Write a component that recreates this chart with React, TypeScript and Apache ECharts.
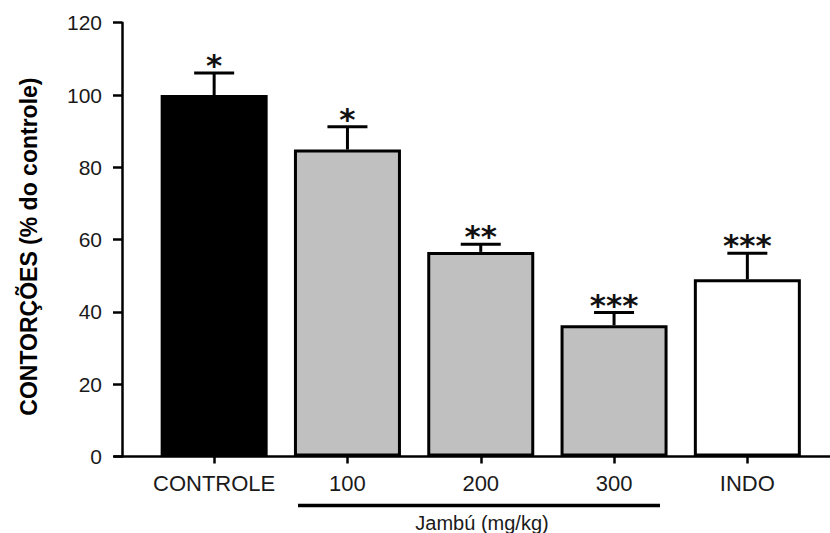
import React, { useEffect, useRef } from 'react';
import * as echarts from 'echarts';

const categories = ['CONTROLE', '100', '200', '300', 'INDO'];
const means = [100, 84.9, 56.6, 36.3, 49.0];
const errors = [6.1, 6.3, 2.1, 3.5, 7.2];
const stars = ['*', '*', '**', '***', '***'];
const barColors = ['#000000', '#c0c0c0', '#c0c0c0', '#c0c0c0', '#ffffff'];
const yMin = 0;
const yMax = 120;
const yStep = 20;
const yTitle = 'CONTORÇÕES (% do controle)';
const groupLabel = 'Jambú (mg/kg)';

const FONT = '"Liberation Sans", Arial, Helvetica, sans-serif';
const STAR_FONT = '"DejaVu Sans", sans-serif';

export default function App() {
  const ref = useRef<HTMLDivElement>(null);
  useEffect(() => {
    document.body.style.margin = '0';
    if (!ref.current) return;
    const chart = echarts.init(ref.current, null, { renderer: 'svg' });
    const option: any = {
      animation: false,
      backgroundColor: '#ffffff',
      grid: { left: 147.5, right: 16, top: 22.7, bottom: 76.5 },
      xAxis: {
        type: 'category',
        data: categories,
        axisLine: { show: false },
        axisTick: { show: true, alignWithLabel: true, length: 7, lineStyle: { color: '#000', width: 2.5 } },
        axisLabel: { interval: 0, color: '#1a1a1a', fontSize: 22, fontFamily: FONT, margin: 16 },
        splitLine: { show: false },
      },
      yAxis: {
        type: 'value',
        min: yMin,
        max: yMax,
        interval: yStep,
        offset: 25.5,
        name: yTitle,
        nameLocation: 'middle',
        nameRotate: 90,
        nameGap: 82,
        nameTextStyle: { color: '#000', fontSize: 23, fontWeight: 'bold', fontFamily: FONT, padding: [0, 14, 0, 0] },
        axisLine: { show: true, lineStyle: { color: '#000', width: 2.5 } },
        axisTick: { show: true, length: 9, lineStyle: { color: '#000', width: 2.5 } },
        axisLabel: { color: '#1a1a1a', fontSize: 21, fontFamily: FONT, margin: 20 },
        splitLine: { show: false },
      },
      series: [
        {
          type: 'bar',
          barWidth: 107,
          data: means.map((v, i) => ({
            value: v,
            itemStyle: { color: barColors[i], borderColor: '#000', borderWidth: 3 },
          })),
          z: 2,
        },
        {
          type: 'custom',
          z: 3,
          data: categories.map((c, i) => [i, means[i], errors[i]]),
          encode: { x: 0, y: 1 },
          renderItem: (params: any, api: any) => {
            const i = api.value(0);
            const m = api.value(1);
            const e = api.value(2);
            const base = api.coord([i, m]);
            const top = api.coord([i, m + e]);
            const half = 20;
            return {
              type: 'group',
              children: [
                {
                  type: 'line',
                  shape: { x1: base[0], y1: base[1], x2: top[0], y2: top[1] },
                  style: { stroke: '#000', lineWidth: 3 },
                },
                {
                  type: 'line',
                  shape: { x1: top[0] - half, y1: top[1], x2: top[0] + half, y2: top[1] },
                  style: { stroke: '#000', lineWidth: 3 },
                },
                {
                  type: 'text',
                  style: {
                    text: stars[i],
                    x: top[0],
                    y: top[1] - 8,
                    align: 'center',
                    verticalAlign: 'middle',
                    fontSize: 31,
                    fontWeight: 'bold',
                    fontFamily: STAR_FONT,
                    fill: '#111',
                  },
                },
              ],
            };
          },
        },
      ],
      graphic: [
        {
          type: 'line',
          shape: { x1: 114, y1: 456.5, x2: 830, y2: 456.5 },
          style: { stroke: '#000', lineWidth: 2.5 },
          z: 10,
        },
        {
          type: 'line',
          shape: { x1: 298, y1: 505.5, x2: 660, y2: 505.5 },
          style: { stroke: '#000', lineWidth: 3.5 },
        },
        {
          type: 'text',
          x: 482,
          y: 523,
          style: {
            text: groupLabel,
            align: 'center',
            verticalAlign: 'middle',
            fontSize: 20,
            fontFamily: FONT,
            fill: '#1a1a1a',
          },
        },
      ],
    };
    chart.setOption(option);
    return () => chart.dispose();
  }, []);
  return <div ref={ref} style={{ width: 830, height: 533 }} />;
}
